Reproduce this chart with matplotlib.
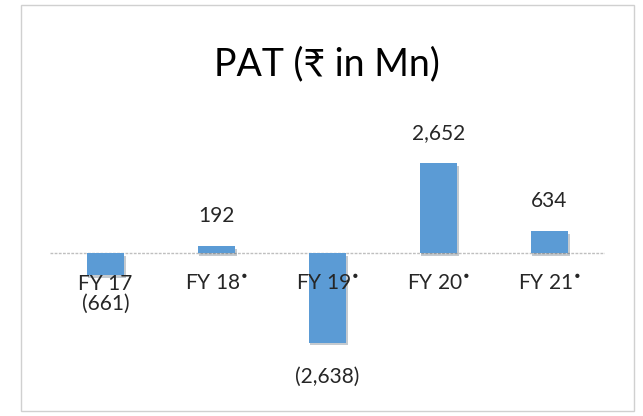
import matplotlib.pyplot as plt
from matplotlib.patches import Rectangle
import matplotlib.patheffects as pe

plt.rcParams['font.family'] = ['Lato', 'DejaVu Sans']

years = ["FY 17", "FY 18$^{•}$", "FY 19$^{•}$", "FY 20$^{•}$", "FY 21$^{•}$"]
pat = [-661, 192, -2638, 2652, 634]
pat_labels = ["(661)", "192", "(2,638)", "2,652", "634"]

W, H = 643, 416
fig = plt.figure(figsize=(W / 100, H / 100), dpi=100)

# outer chart border
fig.patches.append(Rectangle((21 / W, 1 - 411 / H), 613 / W, 406 / H,
                             transform=fig.transFigure, fill=False,
                             edgecolor='#d0d0d0', linewidth=1.0))

# axes placed in pixel terms: x 50..605, y 100..400
ax = fig.add_axes([50 / W, 1 - 400 / H, 555 / W, 300 / H])
ax.set_xlim(-0.5, 4.5)
# baseline at y=253 px, 2652 -> 90 px
scale = 90 / 2652
ax.set_ylim(-(400 - 253) / scale, (253 - 100) / scale)
ax.axis('off')

x = range(len(years))
bars = ax.bar(x, pat, width=0.34, color='#5b9bd5', zorder=3,
              path_effects=[pe.SimplePatchShadow(offset=(1, -2), alpha=0.25),
                            pe.Normal()])
ax.axhline(0, color='#bfbfbf', linewidth=1, linestyle=(0, (2, 1)), zorder=2)

for i, (v, lab) in enumerate(zip(pat, pat_labels)):
    if v >= 0:
        ax.annotate(lab, (i, v), xytext=(0, 30), textcoords='offset pixels',
                    ha='center', va='center', fontsize=15, color='#262626')
    else:
        off = -28 if i == 0 else -34
        ax.annotate(lab, (i, v), xytext=(0, off), textcoords='offset pixels',
                    ha='center', va='center', fontsize=15, color='#262626')
    ax.annotate(years[i], (i, 0), xytext=(0, -31), textcoords='offset pixels',
                ha='center', va='center', fontsize=15, color='#262626', zorder=4)

fig.text(327 / W, 1 - 64 / H, "PAT (₹ in Mn)", ha='center', va='center',
         fontsize=27, color='#000000')

fig.savefig('out.png', dpi=100)
